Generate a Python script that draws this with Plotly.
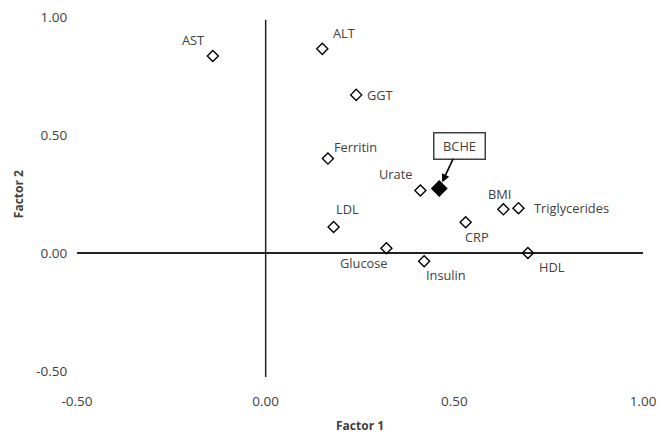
import plotly.graph_objects as go

# Data
names = ["AST", "ALT", "GGT", "Ferritin", "Urate", "BMI", "Triglycerides",
         "CRP", "LDL", "Glucose", "Insulin", "HDL"]
factor1 = [-0.14, 0.15, 0.24, 0.165, 0.41, 0.63, 0.67, 0.53, 0.18, 0.32, 0.42, 0.695]
factor2 = [0.835, 0.865, 0.67, 0.40, 0.265, 0.185, 0.19, 0.13, 0.11, 0.02, -0.035, 0.0]
bche_name = "BCHE"
bche_f1 = [0.46]
bche_f2 = [0.273]
tick_vals = [-0.5, 0.0, 0.5, 1.0]
tick_text = ["-0.50", "0.00", "0.50", "1.00"]

# label offsets (pixels) – style only
label_shift = {
    "AST": (-20, 16), "ALT": (22, 16), "GGT": (24, 0), "Ferritin": (28, 12),
    "Urate": (-25, 16), "BMI": (-4, 15), "Triglycerides": (53, 0),
    "CRP": (11, -15), "LDL": (14, 18), "Glucose": (-22, -15),
    "Insulin": (22, -14), "HDL": (24, -14),
}

FONT = "Open Sans"
TXT = "#404040"

fig = go.Figure()
fig.add_trace(go.Scatter(
    x=factor1, y=factor2, mode="markers",
    marker=dict(symbol="diamond-open", size=8.5, color="black", line=dict(width=1.4, color="black")),
    hoverinfo="text", text=names, showlegend=False, cliponaxis=False))
fig.add_trace(go.Scatter(
    x=bche_f1, y=bche_f2, mode="markers",
    marker=dict(symbol="diamond", size=13, color="black"),
    hoverinfo="text", text=[bche_name], showlegend=False, cliponaxis=False))

anns = []
for n, xv, yv in zip(names, factor1, factor2):
    dx, dy = label_shift[n]
    anns.append(dict(x=xv, y=yv, text=n, showarrow=False, xshift=dx, yshift=dy,
                     font=dict(family=FONT, size=12.8, color=TXT)))
anns.append(dict(x=bche_f1[0], y=bche_f2[0], text=bche_name, showarrow=True,
                 ax=20, ay=-43, arrowhead=2, arrowsize=1, arrowwidth=1.6, arrowcolor="black",
                 standoff=7, bordercolor="#404040", borderwidth=1.5, borderpad=3,
                 width=44, height=19, bgcolor="white",
                 font=dict(family=FONT, size=12.8, color=TXT)))
anns.append(dict(xref="paper", yref="paper", x=0.5, y=-0.153, text="<b>Factor 1</b>",
                 showarrow=False, xanchor="center", yanchor="middle",
                 font=dict(family=FONT, size=12, color=TXT)))
anns.append(dict(xref="paper", yref="paper", x=-0.104, y=0.5, text="<b>Factor 2</b>",
                 showarrow=False, textangle=-90, xanchor="center", yanchor="middle",
                 font=dict(family=FONT, size=12, color=TXT)))

# page body has an 8px margin, so the figure is sized/offset to compensate
fig.update_layout(
    template="none",
    width=656, height=426,
    margin=dict(l=69, r=21, t=9, b=63, autoexpand=False),
    paper_bgcolor="white", plot_bgcolor="white",
    annotations=anns,
    shapes=[dict(type="line", xref="x", yref="paper", x0=0, x1=0, y0=-0.017, y1=0.992,
                 line=dict(color="#222", width=1.5))],
    xaxis=dict(range=[-0.5, 1.0], tickvals=tick_vals, ticktext=tick_text,
               showgrid=False, zeroline=False, showline=False, automargin=False,
               ticks="outside", ticklen=0, ticklabelstandoff=18, ticklabeloverflow="allow",
               tickfont=dict(family=FONT, size=13.5, color=TXT)),
    yaxis=dict(range=[-0.5, 1.0], tickvals=tick_vals, ticktext=tick_text,
               showgrid=False, zeroline=True, zerolinecolor="#222", zerolinewidth=1.5,
               showline=False, automargin=False, ticks="outside", ticklen=0, ticklabelstandoff=6,
               ticklabeloverflow="allow",
               tickfont=dict(family=FONT, size=13.5, color=TXT)),
)

fig.write_html("out.html")
